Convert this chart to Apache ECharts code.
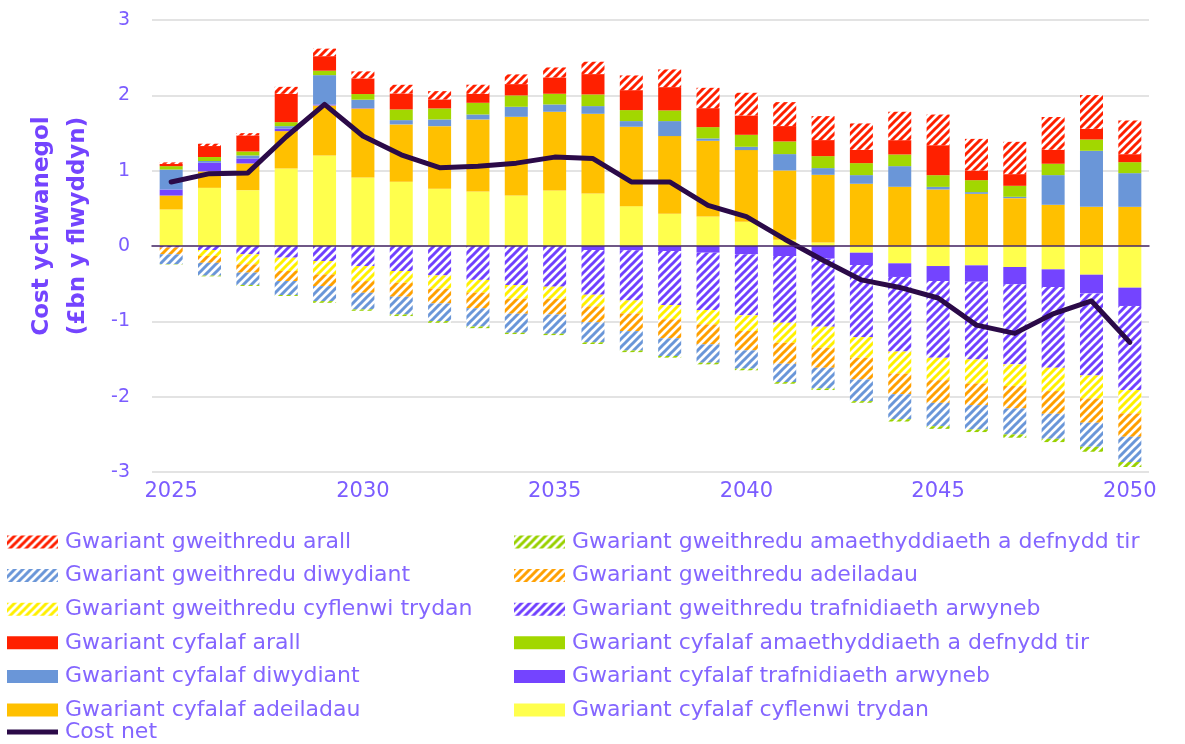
<!DOCTYPE html>
<html>
<head>
<meta charset="utf-8">
<script src="https://cdn.jsdelivr.net/npm/echarts@6/dist/echarts.min.js"></script>
<style>
  html, body { margin: 0; padding: 0; background: #fff; }
  #main { width: 1185px; height: 744px; }
</style>
</head>
<body>
<div id="main"></div>
<script>
// blynyddoedd
var years = ['2025','2026','2027','2028','2029','2030','2031','2032','2033','2034','2035','2036','2037',
  '2038','2039','2040','2041','2042','2043','2044','2045','2046','2047','2048','2049','2050'];

// gwariant cyfalaf (capital)
var capTrydan = [0.485,0.772,0.741,1.029,1.202,0.91,0.852,0.759,0.724,0.67,0.737,0.697,0.529,
  0.427,0.392,0.321,0.082,0.046,-0.089,-0.23,-0.266,-0.257,-0.279,-0.31,-0.381,-0.553];
var capAdeiladau = [0.185,0.218,0.355,0.496,0.664,0.916,0.762,0.832,0.956,1.045,1.045,1.058,1.054,
  1.032,1.005,0.952,0.921,0.899,0.826,0.786,0.75,0.693,0.635,0.547,0.52,0.52];
var capTrafnidiaeth = [0.08,0.115,0.066,0.035,0.013,0.005,0,0,0,0,0,-0.053,-0.058,
  -0.066,-0.089,-0.11,-0.133,-0.168,-0.164,-0.181,-0.2,-0.217,-0.23,-0.235,-0.248,-0.243];
var capDiwydiant = [0.265,0.023,0.04,0.031,0.389,0.111,0.057,0.089,0.066,0.133,0.097,0.102,0.075,
  0.199,0.031,0.044,0.217,0.089,0.115,0.274,0.035,0.022,0.018,0.394,0.744,0.447];
var capAmaeth = [0.045,0.053,0.053,0.053,0.059,0.075,0.142,0.146,0.155,0.151,0.142,0.155,0.146,
  0.142,0.15,0.159,0.168,0.159,0.159,0.155,0.155,0.159,0.146,0.151,0.15,0.146];
var capArall = [0.03,0.146,0.213,0.376,0.193,0.208,0.212,0.12,0.12,0.15,0.217,0.27,0.265,
  0.309,0.252,0.257,0.204,0.213,0.177,0.19,0.398,0.128,0.155,0.186,0.142,0.106];

// gwariant gweithredu (operating)
var opArall = [0.02,0.031,0.03,0.093,0.1,0.093,0.115,0.11,0.12,0.129,0.132,0.164,0.195,
  0.235,0.27,0.301,0.318,0.318,0.35,0.377,0.407,0.42,0.429,0.434,0.447,0.447];
var opTrafnidiaeth = [-0.02,-0.053,-0.11,-0.155,-0.2,-0.266,-0.332,-0.39,-0.45,-0.518,-0.54,-0.593,-0.664,
  -0.717,-0.761,-0.81,-0.885,-0.903,-0.956,-0.99,-1.018,-1.031,-1.062,-1.071,-1.089,-1.116];
var opTrydan = [0,-0.08,-0.133,-0.177,-0.177,-0.2,-0.155,-0.177,-0.168,-0.181,-0.16,-0.155,-0.173,
  -0.19,-0.19,-0.208,-0.266,-0.279,-0.274,-0.292,-0.297,-0.319,-0.288,-0.31,-0.305,-0.31];
var opAdeiladau = [-0.09,-0.09,-0.11,-0.133,-0.155,-0.155,-0.186,-0.195,-0.208,-0.2,-0.208,-0.212,-0.235,
  -0.252,-0.266,-0.257,-0.279,-0.266,-0.288,-0.274,-0.301,-0.288,-0.297,-0.301,-0.323,-0.31];
var opDiwydiant = [-0.13,-0.17,-0.164,-0.186,-0.2,-0.221,-0.235,-0.235,-0.243,-0.252,-0.257,-0.266,-0.257,
  -0.235,-0.243,-0.243,-0.243,-0.274,-0.288,-0.332,-0.31,-0.323,-0.345,-0.332,-0.319,-0.336];
var opAmaeth = [-0.005,-0.01,-0.013,-0.013,-0.022,-0.018,-0.022,-0.022,-0.022,-0.018,-0.018,-0.022,-0.022,
  -0.022,-0.022,-0.022,-0.022,-0.022,-0.022,-0.031,-0.035,-0.035,-0.044,-0.044,-0.066,-0.066];

// cost net
var costNet = [0.85,0.96,0.97,1.45,1.88,1.46,1.21,1.04,1.06,1.1,1.18,1.16,0.85,
  0.85,0.54,0.39,0.09,-0.19,-0.45,-0.55,-0.69,-1.05,-1.16,-0.9,-0.73,-1.28];

var yTicks = [-3, 3, 1]; // min, max, interval

var FONT = 'DejaVu Sans';
var labelColor = '#7b5cff';

// patrwm streipiau
function hatch(color) {
  var c = document.createElement('canvas');
  c.width = 8; c.height = 8;
  var ctx = c.getContext('2d');
  ctx.fillStyle = '#ffffff';
  ctx.fillRect(0, 0, 8, 8);
  ctx.strokeStyle = color;
  ctx.lineWidth = 3;
  ctx.beginPath();
  ctx.moveTo(-4, 4); ctx.lineTo(4, -4);
  ctx.moveTo(0, 8); ctx.lineTo(8, 0);
  ctx.moveTo(4, 12); ctx.lineTo(12, 4);
  ctx.stroke();
  return { image: c, repeat: 'repeat' };
}

function bar(name, data, color) {
  return {
    name: name,
    type: 'bar',
    stack: 'total',
    barWidth: '60%',
    data: data,
    itemStyle: { color: color },
    emphasis: { disabled: true }
  };
}

var names = {
  opArall: 'Gwariant gweithredu arall',
  opAmaeth: 'Gwariant gweithredu amaethyddiaeth a defnydd tir',
  opDiwydiant: 'Gwariant gweithredu diwydiant',
  opAdeiladau: 'Gwariant gweithredu adeiladau',
  opTrydan: 'Gwariant gweithredu cyflenwi trydan',
  opTrafnidiaeth: 'Gwariant gweithredu trafnidiaeth arwyneb',
  capArall: 'Gwariant cyfalaf arall',
  capAmaeth: 'Gwariant cyfalaf amaethyddiaeth a defnydd tir',
  capDiwydiant: 'Gwariant cyfalaf diwydiant',
  capTrafnidiaeth: 'Gwariant cyfalaf trafnidiaeth arwyneb',
  capAdeiladau: 'Gwariant cyfalaf adeiladau',
  capTrydan: 'Gwariant cyfalaf cyflenwi trydan',
  net: 'Cost net'
};

var legendText = { color: '#8466ff', fontFamily: FONT, fontSize: 22, lineHeight: 20, padding: [0, 0, 0, 2] };
var legendBase = {
  orient: 'vertical', top: 531, padding: 0, itemWidth: 51, itemHeight: 13, itemGap: 11.6,
  icon: 'rect', textStyle: legendText, selectedMode: false
};

var chart = echarts.init(document.getElementById('main'));
chart.setOption({
  animation: false,
  grid: { left: 152, right: 36, top: 20, bottom: 272 },
  legend: [
    Object.assign({}, legendBase, {
      left: 7,
      data: [names.opArall, names.opDiwydiant, names.opTrydan, names.capArall,
        names.capDiwydiant, names.capAdeiladau]
    }),
    Object.assign({}, legendBase, {
      left: 514,
      data: [names.opAmaeth, names.opAdeiladau, names.opTrafnidiaeth, names.capAmaeth,
        names.capTrafnidiaeth, names.capTrydan]
    }),
    Object.assign({}, legendBase, {
      left: 7,
      top: 721,
      data: [{ name: names.net, icon: 'path://M0 0H51V5H0Z' }]
    })
  ],
  graphic: [{
    type: 'text',
    x: 60, y: 226,
    rotation: Math.PI / 2,
    style: {
      text: 'Cost ychwanegol\n(£bn y flwyddyn)',
      fill: '#7444ff',
      font: 'bold 23px "DejaVu Sans"',
      lineHeight: 36,
      align: 'center',
      verticalAlign: 'middle'
    }
  }],
  xAxis: [
    {
      type: 'category',
      data: years,
      axisLine: { show: false, onZero: false },
      axisTick: { show: false },
      axisLabel: { interval: 4, color: labelColor, fontFamily: FONT, fontSize: 21, margin: 9 }
    },
    {
      type: 'category',
      data: years,
      z: 10,
      axisLine: { onZero: true, lineStyle: { color: '#4a2a6a', width: 1.5 } },
      axisTick: { show: false },
      axisLabel: { show: false }
    }
  ],
  yAxis: {
    type: 'value',
    min: yTicks[0], max: yTicks[1], interval: yTicks[2],
    axisLine: { show: false },
    axisTick: { show: false },
    axisLabel: { color: labelColor, fontFamily: FONT, fontSize: 19, margin: 22 },
    splitLine: { lineStyle: { color: '#e3e3e3', width: 2 } }
  },
  series: [
    bar(names.capTrydan, capTrydan, '#FFFF4D'),
    bar(names.capAdeiladau, capAdeiladau, '#FFC000'),
    bar(names.capTrafnidiaeth, capTrafnidiaeth, '#7444FF'),
    bar(names.capDiwydiant, capDiwydiant, '#6A96D8'),
    bar(names.capAmaeth, capAmaeth, '#A2D700'),
    bar(names.capArall, capArall, '#FF2000'),
    bar(names.opArall, opArall, hatch('#FF2000')),
    bar(names.opTrafnidiaeth, opTrafnidiaeth, hatch('#7040FF')),
    bar(names.opTrydan, opTrydan, hatch('#FFF000')),
    bar(names.opAdeiladau, opAdeiladau, hatch('#FFA000')),
    bar(names.opDiwydiant, opDiwydiant, hatch('#6A96D8')),
    bar(names.opAmaeth, opAmaeth, hatch('#99D100')),
    {
      name: names.net,
      type: 'line',
      data: costNet,
      symbol: 'none',
      z: 5,
      lineStyle: { color: '#2B0A48', width: 5, cap: 'round', join: 'round' },
      itemStyle: { color: '#2B0A48' },
      emphasis: { disabled: true }
    }
  ]
});
</script>
</body>
</html>
